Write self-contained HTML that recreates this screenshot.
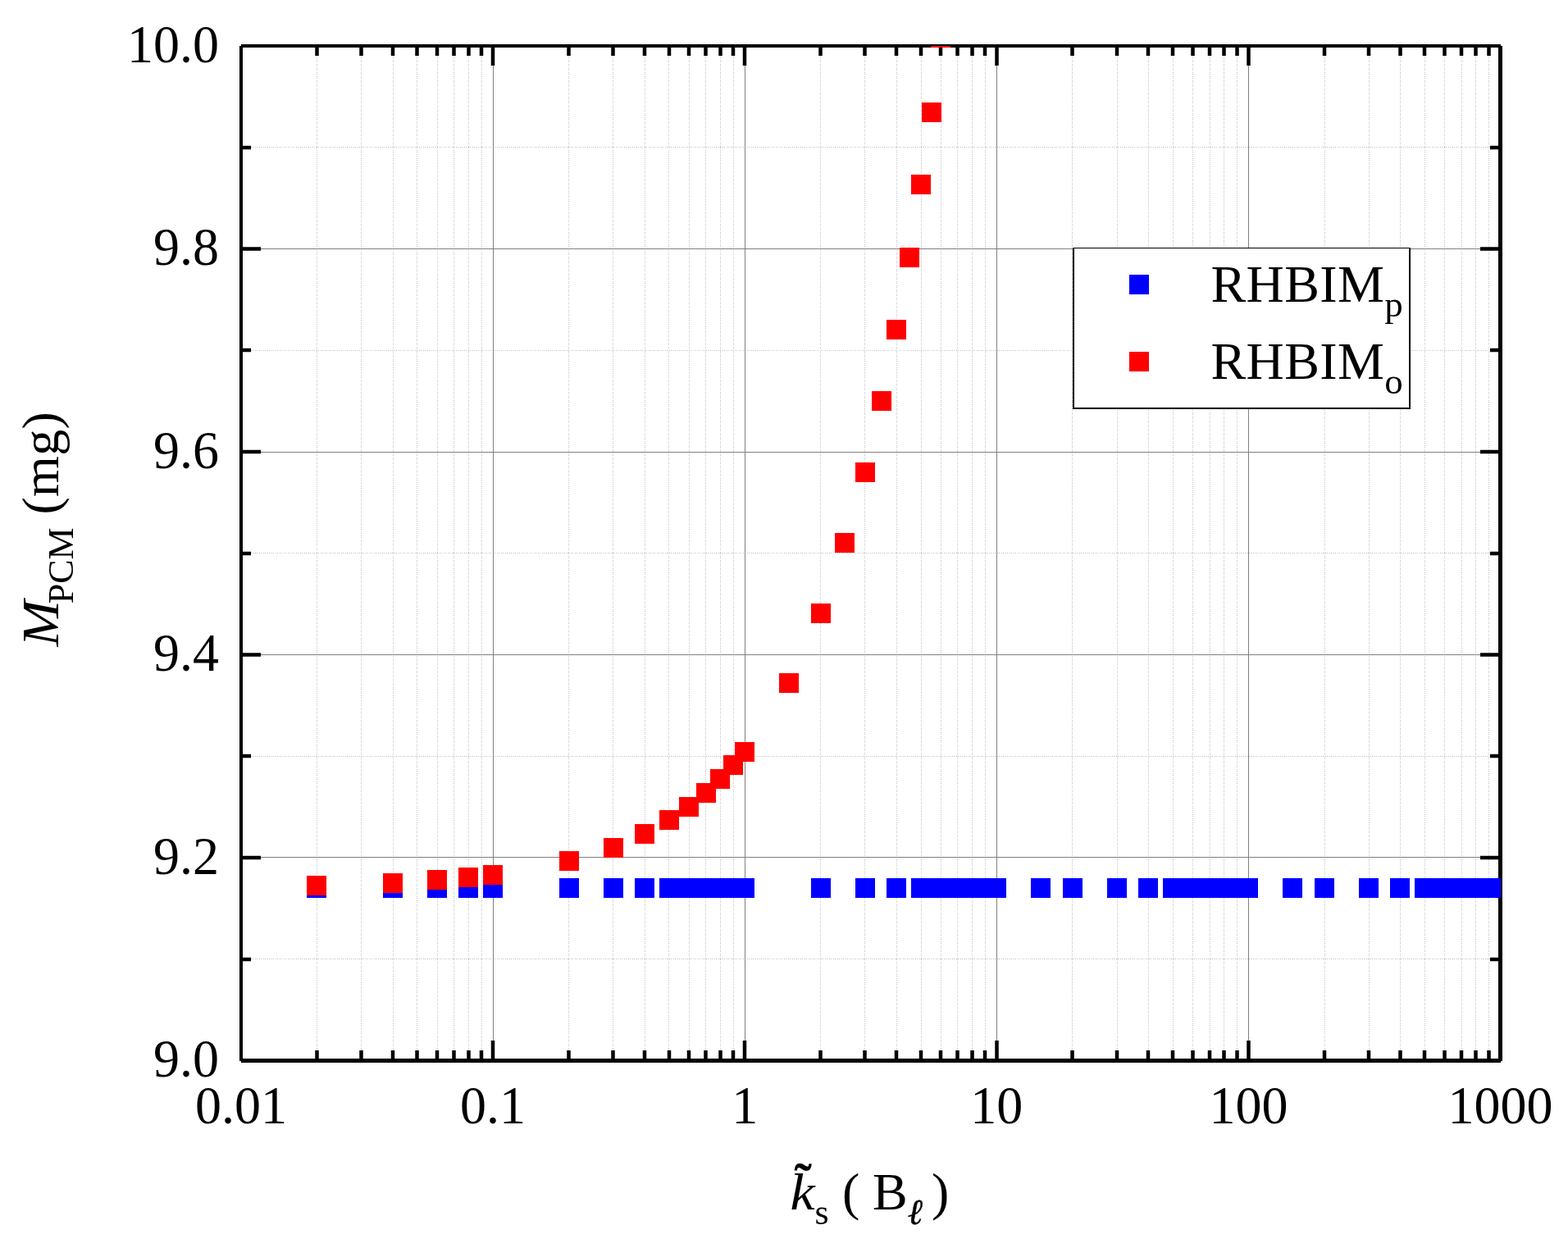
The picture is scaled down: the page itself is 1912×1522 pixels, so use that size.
<!DOCTYPE html>
<html lang="en"><head><meta charset="utf-8"><title>M_PCM vs k_s</title>
<style>html,body{margin:0;padding:0;background:#fff;overflow:hidden}svg{display:block}text{font-family:"Liberation Serif","DejaVu Serif",serif;fill:#000}</style>
</head><body>
<svg width="1912" height="1522" viewBox="0 0 1912 1522">
<rect x="0" y="0" width="1912" height="1522" fill="#fff"/>
<defs><clipPath id="pc"><rect x="294" y="56" width="1536" height="1238"/></clipPath></defs>
<g stroke="#c0c0c0" stroke-width="1" stroke-dasharray="1 1 1 2" shape-rendering="crispEdges" fill="none">
<line x1="386.5" y1="68" x2="386.5" y2="1282"/>
<line x1="440.5" y1="68" x2="440.5" y2="1282"/>
<line x1="479.5" y1="68" x2="479.5" y2="1282"/>
<line x1="508.5" y1="68" x2="508.5" y2="1282"/>
<line x1="533.5" y1="68" x2="533.5" y2="1282"/>
<line x1="553.5" y1="68" x2="553.5" y2="1282"/>
<line x1="571.5" y1="68" x2="571.5" y2="1282"/>
<line x1="587.5" y1="68" x2="587.5" y2="1282"/>
<line x1="693.5" y1="68" x2="693.5" y2="1282"/>
<line x1="747.5" y1="68" x2="747.5" y2="1282"/>
<line x1="786.5" y1="68" x2="786.5" y2="1282"/>
<line x1="815.5" y1="68" x2="815.5" y2="1282"/>
<line x1="840.5" y1="68" x2="840.5" y2="1282"/>
<line x1="860.5" y1="68" x2="860.5" y2="1282"/>
<line x1="878.5" y1="68" x2="878.5" y2="1282"/>
<line x1="894.5" y1="68" x2="894.5" y2="1282"/>
<line x1="1000.5" y1="68" x2="1000.5" y2="1282"/>
<line x1="1054.5" y1="68" x2="1054.5" y2="1282"/>
<line x1="1093.5" y1="68" x2="1093.5" y2="1282"/>
<line x1="1123.5" y1="68" x2="1123.5" y2="1282"/>
<line x1="1147.5" y1="68" x2="1147.5" y2="1282"/>
<line x1="1167.5" y1="68" x2="1167.5" y2="1282"/>
<line x1="1185.5" y1="68" x2="1185.5" y2="1282"/>
<line x1="1201.5" y1="68" x2="1201.5" y2="1282"/>
<line x1="1307.5" y1="68" x2="1307.5" y2="1282"/>
<line x1="1362.5" y1="68" x2="1362.5" y2="1282"/>
<line x1="1400.5" y1="68" x2="1400.5" y2="1282"/>
<line x1="1430.5" y1="68" x2="1430.5" y2="1282"/>
<line x1="1454.5" y1="68" x2="1454.5" y2="1282"/>
<line x1="1475.5" y1="68" x2="1475.5" y2="1282"/>
<line x1="1492.5" y1="68" x2="1492.5" y2="1282"/>
<line x1="1508.5" y1="68" x2="1508.5" y2="1282"/>
<line x1="1615.5" y1="68" x2="1615.5" y2="1282"/>
<line x1="1669.5" y1="68" x2="1669.5" y2="1282"/>
<line x1="1707.5" y1="68" x2="1707.5" y2="1282"/>
<line x1="1737.5" y1="68" x2="1737.5" y2="1282"/>
<line x1="1761.5" y1="68" x2="1761.5" y2="1282"/>
<line x1="1782.5" y1="68" x2="1782.5" y2="1282"/>
<line x1="1799.5" y1="68" x2="1799.5" y2="1282"/>
<line x1="1815.5" y1="68" x2="1815.5" y2="1282"/>
<line x1="306" y1="179.5" x2="1818" y2="179.5"/>
<line x1="306" y1="427.5" x2="1818" y2="427.5"/>
<line x1="306" y1="674.5" x2="1818" y2="674.5"/>
<line x1="306" y1="922.5" x2="1818" y2="922.5"/>
<line x1="306" y1="1169.5" x2="1818" y2="1169.5"/>
</g>
<g stroke="#808080" stroke-width="1" shape-rendering="crispEdges" fill="none">
<line x1="601.5" y1="56" x2="601.5" y2="1293"/>
<line x1="908.5" y1="56" x2="908.5" y2="1293"/>
<line x1="1215.5" y1="56" x2="1215.5" y2="1293"/>
<line x1="1522.5" y1="56" x2="1522.5" y2="1293"/>
<line x1="294" y1="303.5" x2="1830" y2="303.5"/>
<line x1="294" y1="551.5" x2="1830" y2="551.5"/>
<line x1="294" y1="798.5" x2="1830" y2="798.5"/>
<line x1="294" y1="1045.5" x2="1830" y2="1045.5"/>
</g>
<g fill="#000" shape-rendering="crispEdges">
<rect x="294" y="54" width="1536" height="4"/>
<rect x="294" y="1291" width="1536" height="5"/>
<rect x="292" y="56" width="4" height="1238"/>
<rect x="1827" y="56" width="5" height="1238"/>
</g>
<g stroke="#000" stroke-width="4.5" fill="none" stroke-linecap="butt">
<path d="M386.5 56.0v12M386.5 1293.5v-12.5M440.5 56.0v12M440.5 1293.5v-12.5M479 56.0v12M479 1293.5v-12.5M508.5 56.0v12M508.5 1293.5v-12.5M533 56.0v12M533 1293.5v-12.5M553.5 56.0v12M553.5 1293.5v-12.5M571.5 56.0v12M571.5 1293.5v-12.5M587 56.0v12M587 1293.5v-12.5M601 56.0v24M601 1293.5v-24.5M693.5 56.0v12M693.5 1293.5v-12.5M747.5 56.0v12M747.5 1293.5v-12.5M786 56.0v12M786 1293.5v-12.5M816 56.0v12M816 1293.5v-12.5M840 56.0v12M840 1293.5v-12.5M860.5 56.0v12M860.5 1293.5v-12.5M878.5 56.0v12M878.5 1293.5v-12.5M894 56.0v12M894 1293.5v-12.5M908 56.0v24M908 1293.5v-24.5M1000.5 56.0v12M1000.5 1293.5v-12.5M1054.5 56.0v12M1054.5 1293.5v-12.5M1093 56.0v12M1093 1293.5v-12.5M1123 56.0v12M1123 1293.5v-12.5M1147 56.0v12M1147 1293.5v-12.5M1167.5 56.0v12M1167.5 1293.5v-12.5M1185.5 56.0v12M1185.5 1293.5v-12.5M1201 56.0v12M1201 1293.5v-12.5M1215.5 56.0v24M1215.5 1293.5v-24.5M1307.5 56.0v12M1307.5 1293.5v-12.5M1362 56.0v12M1362 1293.5v-12.5M1400 56.0v12M1400 1293.5v-12.5M1430 56.0v12M1430 1293.5v-12.5M1454.5 56.0v12M1454.5 1293.5v-12.5M1475 56.0v12M1475 1293.5v-12.5M1492.5 56.0v12M1492.5 1293.5v-12.5M1508.5 56.0v12M1508.5 1293.5v-12.5M1522.5 56.0v24M1522.5 1293.5v-24.5M1615 56.0v12M1615 1293.5v-12.5M1669 56.0v12M1669 1293.5v-12.5M1707.5 56.0v12M1707.5 1293.5v-12.5M1737 56.0v12M1737 1293.5v-12.5M1761.5 56.0v12M1761.5 1293.5v-12.5M1782 56.0v12M1782 1293.5v-12.5M1799.5 56.0v12M1799.5 1293.5v-12.5M1815.5 56.0v12M1815.5 1293.5v-12.5M294.0 180h12M1829.5 180h-12.5M294.0 303.5h24M1829.5 303.5h-24.5M294.0 427h12M1829.5 427h-12.5M294.0 551h24M1829.5 551h-24.5M294.0 675h12M1829.5 675h-12.5M294.0 798.5h24M1829.5 798.5h-24.5M294.0 922h12M1829.5 922h-12.5M294.0 1046h24M1829.5 1046h-24.5M294.0 1170h12M1829.5 1170h-12.5"/>
</g>
<g clip-path="url(#pc)" shape-rendering="crispEdges">
<g fill="#0000ff">
<rect x="374" y="1071" width="24" height="24"/>
<rect x="467" y="1071" width="24" height="24"/>
<rect x="521" y="1071" width="24" height="24"/>
<rect x="559" y="1071" width="24" height="24"/>
<rect x="589" y="1071" width="24" height="24"/>
<rect x="682" y="1071" width="24" height="24"/>
<rect x="736" y="1071" width="24" height="24"/>
<rect x="774" y="1071" width="24" height="24"/>
<rect x="804" y="1071" width="24" height="24"/>
<rect x="828" y="1071" width="24" height="24"/>
<rect x="849" y="1071" width="24" height="24"/>
<rect x="866" y="1071" width="24" height="24"/>
<rect x="882" y="1071" width="24" height="24"/>
<rect x="896" y="1071" width="24" height="24"/>
<rect x="989" y="1071" width="24" height="24"/>
<rect x="1043" y="1071" width="24" height="24"/>
<rect x="1081" y="1071" width="24" height="24"/>
<rect x="1111" y="1071" width="24" height="24"/>
<rect x="1135" y="1071" width="24" height="24"/>
<rect x="1156" y="1071" width="24" height="24"/>
<rect x="1174" y="1071" width="24" height="24"/>
<rect x="1189" y="1071" width="24" height="24"/>
<rect x="1203" y="1071" width="24" height="24"/>
<rect x="1257" y="1071" width="24" height="24"/>
<rect x="1296" y="1071" width="24" height="24"/>
<rect x="1350" y="1071" width="24" height="24"/>
<rect x="1388" y="1071" width="24" height="24"/>
<rect x="1418" y="1071" width="24" height="24"/>
<rect x="1442" y="1071" width="24" height="24"/>
<rect x="1463" y="1071" width="24" height="24"/>
<rect x="1481" y="1071" width="24" height="24"/>
<rect x="1496" y="1071" width="24" height="24"/>
<rect x="1510" y="1071" width="24" height="24"/>
<rect x="1564" y="1071" width="24" height="24"/>
<rect x="1603" y="1071" width="24" height="24"/>
<rect x="1657" y="1071" width="24" height="24"/>
<rect x="1695" y="1071" width="24" height="24"/>
<rect x="1725" y="1071" width="24" height="24"/>
<rect x="1749" y="1071" width="24" height="24"/>
<rect x="1770" y="1071" width="24" height="24"/>
<rect x="1788" y="1071" width="24" height="24"/>
<rect x="1803" y="1071" width="24" height="24"/>
<rect x="1818" y="1071" width="24" height="24"/>
</g>
<g fill="#ff0000">
<rect x="374" y="1068" width="24" height="24"/>
<rect x="467" y="1065" width="24" height="24"/>
<rect x="521" y="1061" width="24" height="24"/>
<rect x="559" y="1058" width="24" height="24"/>
<rect x="589" y="1055" width="24" height="24"/>
<rect x="682" y="1038" width="24" height="24"/>
<rect x="736" y="1022" width="24" height="24"/>
<rect x="774" y="1005" width="24" height="24"/>
<rect x="804" y="988" width="24" height="24"/>
<rect x="828" y="972" width="24" height="24"/>
<rect x="849" y="955" width="24" height="24"/>
<rect x="866" y="938" width="24" height="24"/>
<rect x="882" y="921" width="24" height="24"/>
<rect x="896" y="905" width="24" height="24"/>
<rect x="950" y="821" width="24" height="24"/>
<rect x="989" y="736" width="24" height="24"/>
<rect x="1018" y="650" width="24" height="24"/>
<rect x="1043" y="564" width="24" height="24"/>
<rect x="1063" y="477" width="24" height="24"/>
<rect x="1081" y="390" width="24" height="24"/>
<rect x="1097" y="302" width="24" height="24"/>
<rect x="1111" y="213" width="24" height="24"/>
<rect x="1124" y="125" width="24" height="24"/>
<rect x="1135" y="34" width="24" height="24"/>
</g></g>
<g shape-rendering="crispEdges">
<rect x="1308" y="302" width="412" height="197" fill="#fff"/>
<rect x="1308" y="302" width="412" height="1" fill="#000"/>
<rect x="1308" y="497" width="412" height="2" fill="#000"/>
<rect x="1308" y="302" width="2" height="197" fill="#000"/>
<rect x="1718" y="302" width="2" height="197" fill="#000"/>
<rect x="1377" y="335" width="24" height="24" fill="#0000ff"/>
<rect x="1377" y="429" width="24" height="24" fill="#ff0000"/>
</g>
<text x="1476.5" y="368" font-size="64" letter-spacing="0.4">RHBIM<tspan font-size="45" dy="18">p</tspan></text>
<text x="1476.5" y="462" font-size="64" letter-spacing="0.4">RHBIM<tspan font-size="45" dy="18">o</tspan></text>
<g font-size="64" text-anchor="end">
<text transform="translate(267 75.5) scale(1 1.03)">10.0</text>
<text transform="translate(267 323) scale(1 1.03)">9.8</text>
<text transform="translate(267 570.5) scale(1 1.03)">9.6</text>
<text transform="translate(267 818) scale(1 1.03)">9.4</text>
<text transform="translate(267 1065.5) scale(1 1.03)">9.2</text>
<text transform="translate(267 1313) scale(1 1.03)">9.0</text>
</g>
<g font-size="64" text-anchor="middle">
<text transform="translate(294.0 1370) scale(1 1.03)">0.01</text>
<text transform="translate(601.1 1370) scale(1 1.03)">0.1</text>
<text transform="translate(908.2 1370) scale(1 1.03)">1</text>
<text transform="translate(1215.3 1370) scale(1 1.03)">10</text>
<text transform="translate(1522.4 1370) scale(1 1.03)">100</text>
<text transform="translate(1829.5 1370) scale(1 1.03)">1000</text>
</g>
<g transform="translate(71 789.5) rotate(-90)">
<text transform="translate(1 0) scale(1.06 1)" font-size="64" font-style="italic">M</text>
<text x="53.3" y="18" font-size="44">PCM</text>
<text x="162" y="0" font-size="64" letter-spacing="0.3">(mg)</text>
</g>
<text transform="translate(963.5 1475) scale(1.06 1)" font-size="64" font-style="italic">k</text>
<text x="968.5" y="1463" font-size="64" font-weight="bold">˜</text>
<text x="993.5" y="1493" font-size="44">s</text>
<text x="1027" y="1475" font-size="64">(</text>
<text x="1064" y="1475" font-size="64">B</text>
<text x="1107.5" y="1492.5" font-size="44" font-style="italic" font-weight="bold" stroke="#000" stroke-width="0.5">ℓ</text>
<text x="1136" y="1475" font-size="64">)</text>
</svg>
</body></html>
